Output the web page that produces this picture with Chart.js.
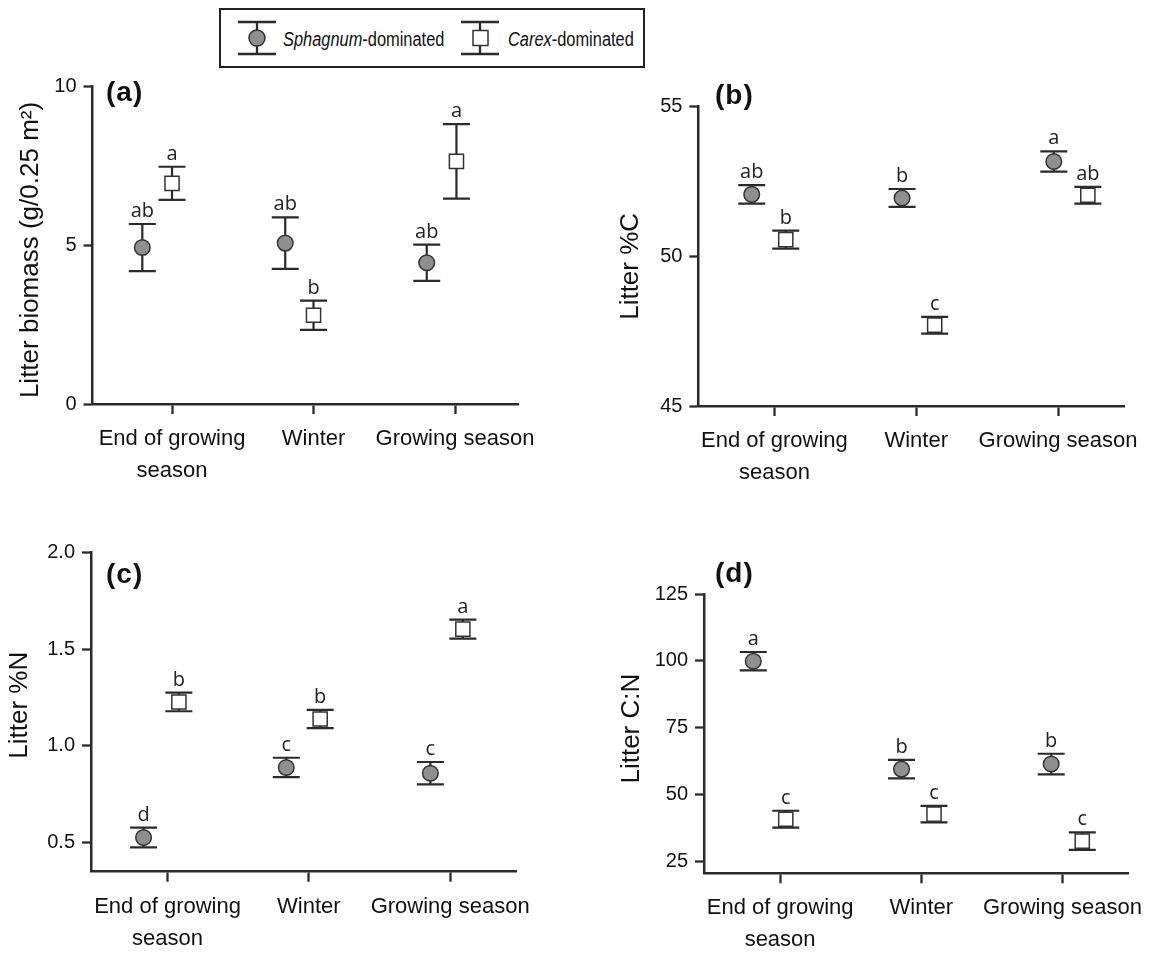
<!DOCTYPE html>
<html>
<head>
<meta charset="utf-8">
<script src="https://cdn.jsdelivr.net/npm/chart.js@4.4.1/dist/chart.umd.min.js"></script>
<style>
  body { margin: 0; background: #fff; width: 1155px; height: 955px; position: relative; overflow: hidden; font-family: "Liberation Sans", Arial, sans-serif; color: #111; }
  canvas { position: absolute; }
  .plabel { position: absolute; font-weight: bold; font-size: 28px; line-height: 28px; letter-spacing: 1px; }
  #legend { position: absolute; left: 219px; top: 8px; width: 422px; height: 56px; border: 2px solid #222; }
  .ltext { position: absolute; font-size: 20px; line-height: 20px; white-space: nowrap; transform: scaleX(0.82); transform-origin: left center; }
  #legsym { position: absolute; left: 0; top: 0; }
</style>
</head>
<body>
<div id="legend"></div>
<svg id="legsym" width="1155" height="80">
  <g stroke="#2a2a2a" stroke-width="2.3" fill="none">
    <line x1="238" y1="22" x2="276" y2="22"/><line x1="238" y1="54" x2="276" y2="54"/><line x1="257" y1="22" x2="257" y2="54"/>
    <line x1="461" y1="22" x2="499" y2="22"/><line x1="461" y1="54" x2="499" y2="54"/><line x1="480" y1="22" x2="480" y2="54"/>
  </g>
  <circle cx="257" cy="38" r="8" fill="#8f8f8f" stroke="#333" stroke-width="1.5"/>
  <rect x="473" y="30.5" width="15" height="15" fill="#fff" stroke="#333" stroke-width="1.5"/>
</svg>
<div class="ltext" style="left:283px; top:29px;"><i>Sphagnum</i>-dominated</div>
<div class="ltext" style="left:508px; top:29px;"><i>Carex</i>-dominated</div>

<canvas id="panelA" width="560" height="460" style="left:0px; top:60px;"></canvas>
<canvas id="panelB" width="577" height="460" style="left:578px; top:60px;"></canvas>
<canvas id="panelC" width="560" height="435" style="left:0px; top:520px;"></canvas>
<canvas id="panelD" width="577" height="435" style="left:578px; top:520px;"></canvas>

<div class="plabel" style="left:106px; top:78px;">(a)</div>
<div class="plabel" style="left:715px; top:81px;">(b)</div>
<div class="plabel" style="left:106px; top:560px;">(c)</div>
<div class="plabel" style="left:715px; top:559px;">(d)</div>

<script>
// categories and series
const categories = [["End of growing", "season"], "Winter", "Growing season"];
const seriesNames = ["Sphagnum-dominated", "Carex-dominated"];

// (a) litter biomass
const biomassSphX = [0.79, 1.80, 2.80];
const biomassSph = [4.92, 5.06, 4.44];
const biomassSphErr = [0.74, 0.81, 0.57];
const biomassSphLetters = ["ab", "ab", "ab"];
const biomassCarX = [1.00, 2.00, 3.01];
const biomassCar = [6.94, 2.79, 7.63];
const biomassCarErr = [0.52, 0.46, 1.17];
const biomassCarLetters = ["a", "b", "a"];
const biomassTicks = [0, 5, 10];

// (b) litter %C
const carbonSphX = [0.84, 1.90, 2.97];
const carbonSph = [52.07, 51.95, 53.17];
const carbonSphErr = [0.31, 0.30, 0.34];
const carbonSphLetters = ["ab", "b", "a"];
const carbonCarX = [1.08, 2.13, 3.21];
const carbonCar = [50.56, 47.70, 52.04];
const carbonCarErr = [0.30, 0.28, 0.28];
const carbonCarLetters = ["b", "c", "ab"];
const carbonTicks = [45, 50, 55];

// (c) litter %N
const nitroSphX = [0.83, 1.84, 2.86];
const nitroSph = [0.525, 0.888, 0.858];
const nitroSphErr = [0.051, 0.050, 0.058];
const nitroSphLetters = ["d", "c", "c"];
const nitroCarX = [1.08, 2.08, 3.09];
const nitroCar = [1.227, 1.139, 1.604];
const nitroCarErr = [0.048, 0.047, 0.049];
const nitroCarLetters = ["b", "b", "a"];
const nitroTicks = [0.5, 1.0, 1.5, 2.0];

// (d) litter C:N
const cnSphX = [0.81, 1.86, 2.92];
const cnSph = [99.9, 59.6, 61.5];
const cnSphErr = [3.45, 3.45, 3.85];
const cnSphLetters = ["a", "b", "b"];
const cnCarX = [1.04, 2.09, 3.14];
const cnCar = [40.9, 42.8, 32.7];
const cnCarErr = [3.15, 3.05, 3.25];
const cnCarLetters = ["c", "c", "c"];
const cnTicks = [25, 50, 75, 100, 125];

Chart.defaults.font.family = '"Liberation Sans", Arial, sans-serif';
Chart.defaults.color = '#111';

const LINE = '#2a2a2a';

// error bars behind the markers, significance letters on top
const errorBars = {
  id: 'errorBars',
  beforeDatasetsDraw(chart) {
    const ctx = chart.ctx, yScale = chart.scales.y;
    ctx.save();
    ctx.strokeStyle = LINE;
    ctx.lineWidth = 2.2;
    chart.data.datasets.forEach((ds, di) => {
      chart.getDatasetMeta(di).data.forEach((pt, i) => {
        const v = ds.data[i].y, e = ds.err[i];
        const top = yScale.getPixelForValue(v + e);
        const bot = yScale.getPixelForValue(v - e);
        ctx.beginPath();
        ctx.moveTo(pt.x, top); ctx.lineTo(pt.x, bot);
        ctx.moveTo(pt.x - 13.5, top); ctx.lineTo(pt.x + 13.5, top);
        ctx.moveTo(pt.x - 13.5, bot); ctx.lineTo(pt.x + 13.5, bot);
        ctx.stroke();
      });
    });
    ctx.restore();
  },
  afterDatasetsDraw(chart) {
    const ctx = chart.ctx, yScale = chart.scales.y;
    ctx.save();
    ctx.fillStyle = '#222';
    ctx.font = '20px "Open Sans", sans-serif';
    ctx.textAlign = 'center';
    ctx.textBaseline = 'alphabetic';
    chart.data.datasets.forEach((ds, di) => {
      chart.getDatasetMeta(di).data.forEach((pt, i) => {
        const top = yScale.getPixelForValue(ds.data[i].y + ds.err[i]);
        ctx.fillText(ds.letters[i], pt.x, top - 7);
      });
    });
    ctx.restore();
  }
};

// rotated y-axis title, placed beside the y scale
const yTitle = {
  id: 'yTitle',
  afterDraw(chart, args, opts) {
    const ctx = chart.ctx, y = chart.scales.y;
    ctx.save();
    ctx.translate(y.left + opts.offsetX, (chart.chartArea.top + chart.chartArea.bottom) / 2 + opts.shiftY);
    ctx.rotate(-Math.PI / 2);
    ctx.font = '26px "Liberation Sans", Arial, sans-serif';
    ctx.fillStyle = '#111';
    ctx.textAlign = 'center';
    ctx.textBaseline = 'middle';
    ctx.fillText(opts.text, 0, 0);
    ctx.restore();
  }
};

function makePanel(id, p) {
  const pts = (xs, ys) => xs.map((x, i) => ({ x: x, y: ys[i] }));
  return new Chart(document.getElementById(id), {
    type: 'scatter',
    data: {
      datasets: [{
        label: seriesNames[0],
        data: pts(p.sphX, p.sph),
        err: p.sphErr,
        letters: p.sphLetters,
        pointStyle: 'circle',
        pointRadius: 7.8,
        backgroundColor: '#8f8f8f',
        borderColor: '#333',
        borderWidth: 1.5
      }, {
        label: seriesNames[1],
        data: pts(p.carX, p.car),
        err: p.carErr,
        letters: p.carLetters,
        pointStyle: 'rect',
        pointRadius: 10,
        backgroundColor: '#fff',
        borderColor: '#333',
        borderWidth: 1.5
      }]
    },
    options: {
      responsive: false,
      animation: false,
      devicePixelRatio: 1,
      layout: { padding: { top: p.padTop, right: p.padRight, left: 0, bottom: 0 } },
      plugins: {
        legend: { display: false },
        tooltip: { enabled: false },
        yTitle: { text: p.yTitle, offsetX: p.titleX, shiftY: p.titleShift }
      },
      scales: {
        x: {
          type: 'linear',
          min: p.xMin, max: p.xMax,
          afterBuildTicks: s => { s.ticks = [1, 2, 3].map(v => ({ value: v })); },
          afterFit: s => { s.height = p.xHeight; },
          ticks: {
            callback: (v) => categories[Math.round(v) - 1],
            font: { size: 22, lineHeight: 1.45 },
            color: '#111',
            padding: 9,
            maxRotation: 0,
            autoSkip: false
          },
          grid: { drawOnChartArea: false, tickLength: 10, tickWidth: 2.3, tickColor: LINE },
          border: { color: LINE, width: 2.5 }
        },
        y: {
          min: p.yMin, max: p.yMax,
          afterBuildTicks: s => { s.ticks = p.yTicks.map(v => ({ value: v })); },
          afterFit: s => { s.width = p.yWidth; },
          ticks: {
            callback: (v) => p.yDigits ? v.toFixed(p.yDigits) : String(v),
            font: { size: 20 },
            color: '#111',
            padding: 7
          },
          grid: { drawOnChartArea: false, tickLength: 9, tickWidth: 2.3, tickColor: LINE },
          border: { color: LINE, width: 2.5 }
        }
      }
    },
    plugins: [errorBars, yTitle]
  });
}

makePanel('panelA', {
  sphX: biomassSphX, sph: biomassSph, sphErr: biomassSphErr, sphLetters: biomassSphLetters,
  carX: biomassCarX, car: biomassCar, carErr: biomassCarErr, carLetters: biomassCarLetters,
  yTicks: biomassTicks, yMin: 0, yMax: 10, yDigits: 0,
  xMin: 0.438, xMax: 3.445,
  yTitle: 'Litter biomass (g/0.25 m\u00B2)',
  padTop: 26, padRight: 42, yWidth: 92.5, xHeight: 116, titleX: 31, titleShift: 5
});

makePanel('panelB', {
  sphX: carbonSphX, sph: carbonSph, sphErr: carbonSphErr, sphLetters: carbonSphLetters,
  carX: carbonCarX, car: carbonCar, carErr: carbonCarErr, carLetters: carbonCarLetters,
  yTicks: carbonTicks, yMin: 45, yMax: 55, yDigits: 0,
  xMin: 0.464, xMax: 3.465,
  yTitle: 'Litter %C',
  padTop: 46.7, padRight: 31, yWidth: 120.4, xHeight: 114, titleX: 53, titleShift: 10
});

makePanel('panelC', {
  sphX: nitroSphX, sph: nitroSph, sphErr: nitroSphErr, sphLetters: nitroSphLetters,
  carX: nitroCarX, car: nitroCar, carErr: nitroCarErr, carLetters: nitroCarLetters,
  yTicks: nitroTicks, yMin: 0.348, yMax: 2.0, yDigits: 1,
  xMin: 0.458, xMax: 3.466,
  yTitle: 'Litter %N',
  padTop: 32.7, padRight: 44, yWidth: 91, xHeight: 83.3, titleX: 20, titleShift: -7
});

makePanel('panelD', {
  sphX: cnSphX, sph: cnSph, sphErr: cnSphErr, sphLetters: cnSphLetters,
  carX: cnCarX, car: cnCar, carErr: cnCarErr, carLetters: cnCarLetters,
  yTicks: cnTicks, yMin: 20.7, yMax: 125, yDigits: 0,
  xMin: 0.461, xMax: 3.464,
  yTitle: 'Litter C:N',
  padTop: 74, padRight: 26, yWidth: 126, xHeight: 81.7, titleX: 54, titleShift: -5
});
</script>
</body>
</html>
